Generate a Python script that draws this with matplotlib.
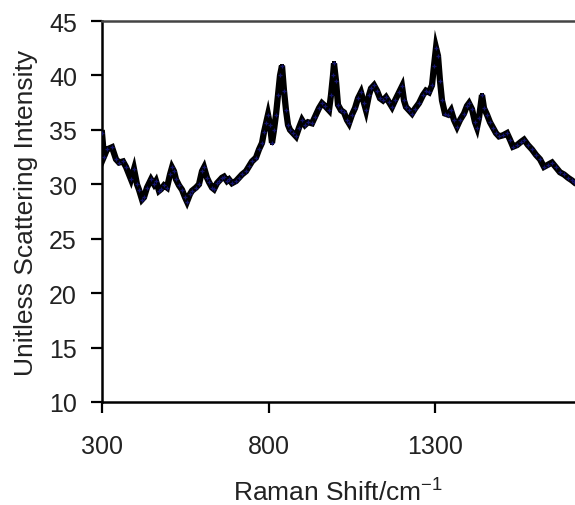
import matplotlib
matplotlib.use("Agg")
import matplotlib.pyplot as plt

plt.rcParams['font.family'] = ['Liberation Sans', 'DejaVu Sans']
plt.rcParams['mathtext.fontset'] = 'custom'
plt.rcParams['mathtext.rm'] = 'Liberation Sans'
plt.rcParams['mathtext.default'] = 'regular'

shift = [300, 306, 315, 330, 342, 351, 363, 372, 387, 396, 405, 411, 420, 426, 435,
         447, 456, 462, 471, 477, 486, 495, 504, 510, 516, 522, 531, 540, 549, 555,
         564, 570, 582, 591, 600, 606, 615, 621, 630, 636, 645, 651, 660, 666, 675,
         681, 690, 702, 711, 720, 732, 741, 750, 762, 771, 780, 786, 792, 798, 804,
         810, 816, 822, 828, 834, 840, 846, 852, 858, 864, 873, 882, 891, 900, 909,
         918, 930, 939, 951, 960, 969, 981, 987, 993, 996, 1002, 1008, 1017, 1026, 1035,
         1041, 1050, 1059, 1068, 1077, 1086, 1092, 1101, 1107, 1116, 1125, 1134, 1143, 1152, 1161,
         1170, 1179, 1191, 1200, 1206, 1212, 1221, 1230, 1239, 1251, 1263, 1272, 1281, 1290, 1296,
         1302, 1308, 1314, 1320, 1329, 1338, 1347, 1356, 1365, 1374, 1386, 1395, 1401, 1410, 1419,
         1425, 1431, 1440, 1446, 1455, 1464, 1473, 1482, 1491, 1503, 1515, 1524, 1533, 1545, 1557,
         1566, 1578, 1590, 1602, 1614, 1626, 1638, 1650, 1662, 1674, 1686, 1698, 1710, 1716]
intensity = [34.7, 32.55, 33.2, 33.4, 32.3, 32.0, 32.1, 31.6, 30.45, 31.4, 30.0, 29.5, 28.6, 28.8, 29.7,
             30.45, 30.0, 30.3, 29.4, 29.55, 29.9, 29.7, 30.9, 31.55, 31.2, 30.45, 29.9, 29.5, 28.8, 28.4,
             29.1, 29.4, 29.7, 30.0, 31.2, 31.55, 30.6, 30.2, 29.7, 29.55, 30.1, 30.3, 30.6, 30.7, 30.3,
             30.45, 30.1, 30.3, 30.6, 30.9, 31.2, 31.65, 32.1, 32.45, 33.2, 33.8, 34.8, 35.6, 36.4, 35.45,
             33.8, 35.0, 36.4, 38.2, 40.0, 40.9, 38.6, 36.8, 35.45, 35.0, 34.7, 34.4, 35.2, 35.9, 35.45,
             35.7, 35.6, 36.2, 37.0, 37.45, 37.2, 36.8, 38.2, 40.0, 41.1, 39.5, 37.3, 36.8, 36.6, 35.9,
             35.6, 36.4, 37.0, 37.9, 38.45, 37.45, 36.8, 38.2, 38.8, 39.1, 38.6, 37.9, 37.7, 38.0, 37.55,
             37.1, 37.7, 38.45, 39.0, 37.7, 37.1, 36.8, 36.5, 36.95, 37.45, 38.2, 38.6, 38.45, 39.1, 40.9,
             42.55, 41.8, 39.5, 37.7, 36.5, 36.4, 36.8, 35.9, 35.3, 35.9, 36.5, 37.2, 37.45, 36.9, 35.7,
             35.2, 36.1, 38.2, 37.0, 36.4, 35.7, 35.2, 34.7, 34.4, 34.5, 34.7, 34.1, 33.45, 33.6, 33.9,
             34.1, 33.6, 33.2, 32.7, 32.3, 31.6, 31.8, 32.0, 31.55, 31.1, 30.9, 30.6, 30.35, 30.2]

x_ticks = [300, 800, 1300]
y_ticks = [10, 15, 20, 25, 30, 35, 40, 45]

fig = plt.figure(figsize=(5.75, 5.06), dpi=100)
ax = fig.add_axes([102/575, 1 - 403/506, 1 - 102/575, (403 - 22)/506])

ax.plot(shift, intensity, color='black', lw=4.5, solid_joinstyle='miter', zorder=2)
ax.plot(shift, intensity, ls='none', marker='s', ms=3.5, mew=0, color='black', zorder=2)
ax.plot(shift, intensity, ls='none', marker='+', ms=3.5, mew=0.9, color='#14146e', zorder=3)

ax.set_xlim(300, 1719)
ax.set_ylim(10, 45)
ax.set_xticks(x_ticks)
ax.set_yticks(y_ticks)
ax.tick_params(axis='x', direction='out', length=8, width=1.6, pad=15, labelsize=18, labelcolor='#222222')
ax.tick_params(axis='y', direction='out', length=8, width=1.6, pad=10, labelsize=18, labelcolor='#222222')

ax.spines['right'].set_visible(False)
for s in ['left', 'bottom']:
    ax.spines[s].set_linewidth(1.8)
ax.spines['top'].set_linewidth(1.8)
ax.spines['top'].set_color('#444444')

ax.set_ylabel('Unitless Scattering Intensity', fontsize=19, labelpad=8, color='#222222')
ax.set_xlabel('Raman Shift/cm$^{-1}$', fontsize=19, labelpad=15, color='#222222')

fig.savefig('out.png', dpi=100)
